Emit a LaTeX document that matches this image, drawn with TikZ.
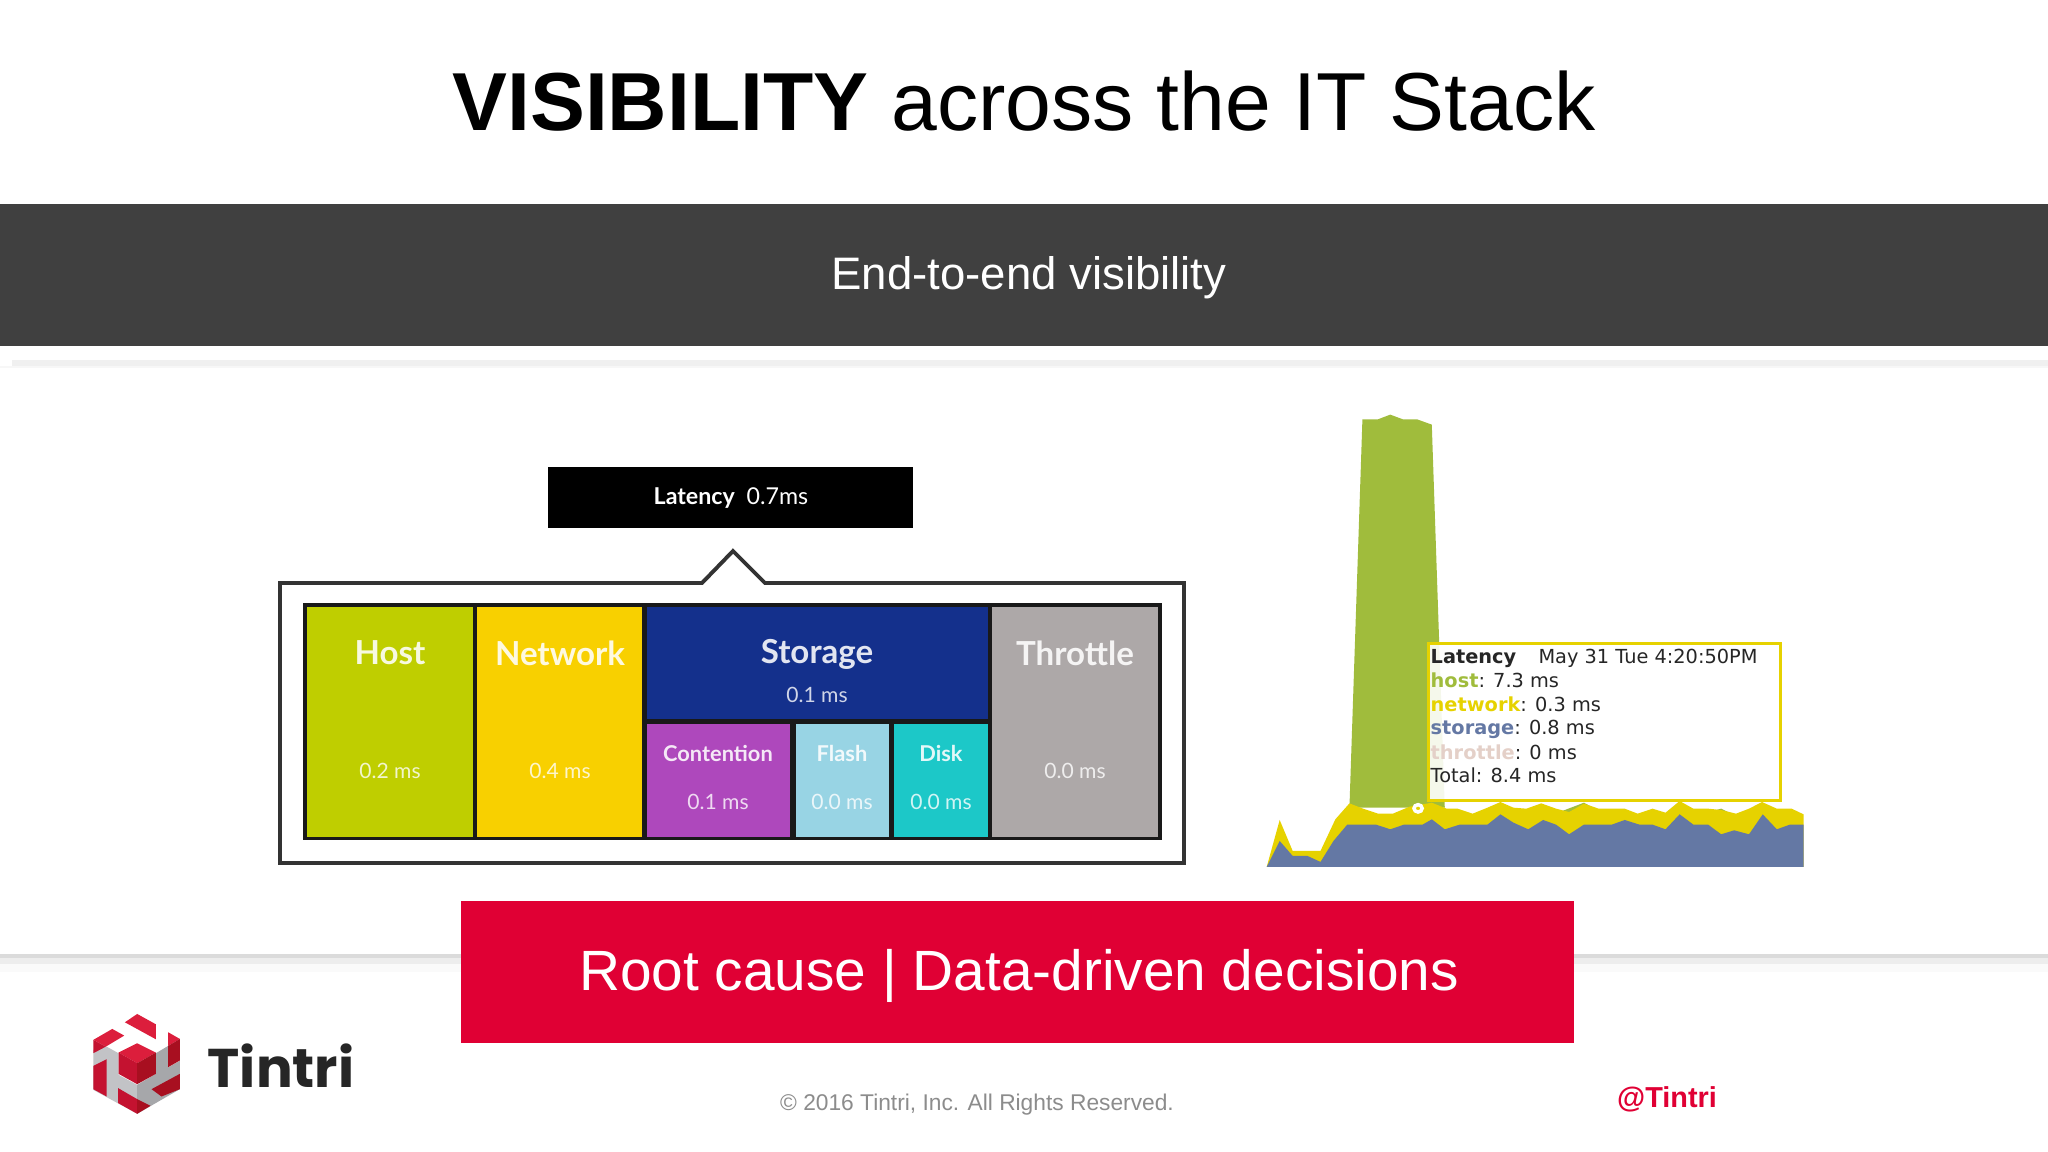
\documentclass[tikz,border=0pt]{standalone}
\usepackage{fontspec}
\setmainfont{Liberation Sans}
\newfontfamily\cellfont{Lato}
\newfontfamily\tipfont{DejaVu Sans}
\newfontfamily\brandfont{Poppins}

\definecolor{bandgray}{HTML}{404040}
\definecolor{tintrired}{HTML}{E00034}
\definecolor{hostcol}{HTML}{BFCE00}
\definecolor{netcol}{HTML}{F8D000}
\definecolor{storcol}{HTML}{14308C}
\definecolor{contcol}{HTML}{AE48BC}
\definecolor{flashcol}{HTML}{98D4E4}
\definecolor{diskcol}{HTML}{1CC8C8}
\definecolor{throtcol}{HTML}{ADA8A8}
\definecolor{chartgreen}{HTML}{A0BC3C}
\definecolor{chartyellow}{HTML}{E6D200}
\definecolor{chartblue}{HTML}{6478A4}
\definecolor{throtname}{HTML}{E4D0C8}
\definecolor{logored}{HTML}{DC1E3C}
\definecolor{logomid}{HTML}{C41230}
\definecolor{logodark}{HTML}{A80F20}
\definecolor{logogray}{HTML}{C2C3C6}
\definecolor{logodgray}{HTML}{A6A7AA}

\tikzset{
  px/.style={x=0.01cm,y=-0.01cm},
  bigcell/.style={text=white,text opacity=.88,font=\cellfont\bfseries\fontsize{9.4}{11}\selectfont},
  smallcell/.style={text=white,text opacity=.88,font=\cellfont\bfseries\fontsize{6.2}{7}\selectfont},
  msval/.style={text=white,text opacity=.8,font=\cellfont\fontsize{6}{7}\selectfont},
  tipline/.style={anchor=base west,inner sep=0pt,text=black!85,font=\tipfont\fontsize{5.5}{6}\selectfont},
}

\begin{document}
\begin{tikzpicture}[px]
  \useasboundingbox (0,0) rectangle (2048,1152);
  \fill[white] (0,0) rectangle (2048,1152);

  \fill[black!6] (12,360) rectangle (2048,366);
  \fill[black!3] (0,366) rectangle (2048,368);
  \fill[black!14] (0,954) rectangle (2048,958);
  \fill[black!7] (0,958) rectangle (2048,964);
  \fill[black!2] (0,964) rectangle (2048,972);
  \fill[bandgray] (0,204) rectangle (2048,346);
  \fill[tintrired] (461,901) rectangle (1574,1043);

  \node (title) at (1024,101) {\fontsize{23.4}{28}\selectfont\textbf{VISIBILITY} across the IT Stack};
  \node[text=white] (band) at (1029,278) {\fontsize{12.95}{16}\selectfont End-to-end visibility};
  \node[text=white] (cause) at (1019,976) {\fontsize{16.15}{20}\selectfont Root cause | Data-driven decisions};
  \node[text=black!45] (rights) at (977,1105) {\fontsize{6.47}{8}\selectfont © 2016 Tintri, Inc. All Rights Reserved.};
  \node[text=tintrired] (handle) at (1667,1099) {\fontsize{8.2}{10}\selectfont\textbf{@Tintri}};

  % latency tree
  \fill[black] (548,467) rectangle (913,528);
  \node[text=white,font=\cellfont\fontsize{6.6}{8}\selectfont] (latency) at (731,498) {\textbf{Latency}\ \ 0.7ms};
  \draw[line width=1.1pt,draw=black!80,fill=white] (280,583) -- (702,583) -- (733,551) -- (765,583) -- (1184,583) -- (1184,863) -- (280,863) -- cycle;
  \fill[black!90] (303,603) rectangle (1162,840);
  \foreach \cname/\xa/\ya/\xb/\yb/\col in {host/307/607/473/837/hostcol,net/477/607/642/837/netcol,stor/647/607/988/719/storcol,cont/647/724/790/837/contcol,flash/796/724/889/837/flashcol,disk/894/724/988/837/diskcol,throt/992/607/1158/837/throtcol}
    \fill[\col] (\xa,\ya) rectangle (\xb,\yb);

  \node[bigcell] (hostname) at (390,653) {Host};
  \node[bigcell] (netname) at (560,653) {Network};
  \node[bigcell] (storname) at (817,654) {Storage};
  \node[bigcell] (throtname) at (1075,653) {Throttle};
  \node[msval] (hostms) at (390,771) {0.2 ms};
  \node[msval] (netms) at (560,771) {0.4 ms};
  \node[msval] (storms) at (817,695) {0.1 ms};
  \node[msval] (throtms) at (1075,771) {0.0 ms};
  \node[smallcell] (contname) at (718,753) {Contention};
  \node[smallcell] (flashname) at (842,753) {Flash};
  \node[smallcell] (diskname) at (941,753) {Disk};
  \node[msval] (contms) at (718,802) {0.1 ms};
  \node[msval] (flashms) at (842,802) {0.0 ms};
  \node[msval] (diskms) at (941,802) {0.0 ms};

  % latency chart
  \begin{scope}[shift={(1250,400)},x=0.0037037cm,y=-0.0033333cm]
    \fill[chartgreen] (268,1225) -- (303,58) -- (345,58) -- (378,44) -- (412,58) -- (450,58) -- (490,74) -- (525,1225) -- cycle;
    \fill[chartgreen] (830,1240) -- (900,1210) -- (950,1240) -- cycle;
    \fill[chartgreen] (1230,1240) -- (1270,1228) -- (1310,1250) -- cycle;
    \fill[chartyellow] (45,1403) -- (80,1262) -- (115,1355) -- (190,1355) -- (230,1260) -- (268,1212) -- (305,1228) -- (345,1243) -- (385,1243) -- (430,1222) -- (490,1210) -- (530,1228) -- (560,1228) -- (600,1243) -- (640,1225) -- (675,1208) -- (710,1225) -- (745,1228) -- (785,1212) -- (825,1228) -- (860,1238) -- (900,1213) -- (940,1228) -- (1010,1228) -- (1045,1243) -- (1085,1228) -- (1120,1240) -- (1158,1205) -- (1195,1228) -- (1235,1228) -- (1270,1232) -- (1310,1243) -- (1345,1228) -- (1380,1208) -- (1420,1228) -- (1460,1228) -- (1492,1245) -- (1492,1403) -- cycle;
    \fill[chartblue] (45,1403) -- (80,1325) -- (115,1370) -- (155,1370) -- (190,1388) -- (225,1325) -- (262,1276) -- (340,1276) -- (378,1290) -- (415,1276) -- (465,1276) -- (490,1260) -- (525,1290) -- (565,1276) -- (640,1276) -- (675,1245) -- (710,1270) -- (750,1290) -- (790,1262) -- (825,1276) -- (860,1305) -- (900,1276) -- (975,1276) -- (1010,1262) -- (1050,1276) -- (1085,1276) -- (1120,1290) -- (1158,1245) -- (1195,1276) -- (1235,1276) -- (1270,1305) -- (1305,1293) -- (1345,1305) -- (1382,1245) -- (1420,1290) -- (1455,1276) -- (1492,1276) -- (1492,1403) -- cycle;
    \draw[white,line width=1pt] (453,1227) circle (11);
    \draw[chartyellow,line width=0.8pt,fill=white,fill opacity=0.9] (482,732) rectangle (1430,1203);
  \end{scope}
  \node[tipline] (tiphead) at (1430,663) {\textbf{Latency}\hspace{1.15em}May 31 Tue 4:20:50PM};
  \node[tipline] (tiphost) at (1430,687) {\textbf{\textcolor{chartgreen}{host}}: 7.3 ms};
  \node[tipline] (tipnet) at (1430,711) {\textbf{\textcolor{chartyellow}{network}}: 0.3 ms};
  \node[tipline] (tipstor) at (1430,735) {\textbf{\textcolor{chartblue}{storage}}: 0.8 ms};
  \node[tipline] (tipthrot) at (1430,759) {\textbf{\textcolor{throtname}{throttle}}: 0 ms};
  \node[tipline] (tiptotal) at (1430,782) {Total: 8.4 ms};

  % logo
  \begin{scope}[shift={(60,990)},x=0.0033333cm,y=-0.0033333cm]
    \fill[logogray] (100,180) -- (140,170) -- (176,190) -- (176,255) -- (232,285) -- (232,372) -- (100,300) -- cycle;
    \fill[logodgray] (232,285) -- (288,252) -- (288,190) -- (325,168) -- (325,233) -- (360,213) -- (360,298) -- (232,372) -- cycle;
    \fill[logored] (195,97) -- (232,72) -- (288,103) -- (288,148) -- cycle;
    \fill[logored] (100,150) -- (157,117) -- (193,137) -- (138,170) -- cycle;
    \fill[logomid] (100,150) -- (138,170) -- (100,190) -- cycle;
    \fill[logored] (325,127) -- (360,147) -- (325,168) -- cycle;
    \fill[logodark] (325,168) -- (360,147) -- (360,212) -- (325,232) -- cycle;
    \fill[logored] (176,188) -- (232,160) -- (288,188) -- (232,220) -- cycle;
    \fill[logomid] (176,188) -- (232,220) -- (232,283) -- (176,252) -- cycle;
    \fill[logodark] (232,220) -- (288,188) -- (288,252) -- (232,283) -- cycle;
    \fill[logomid] (100,228) -- (140,208) -- (140,320) -- (100,298) -- cycle;
    \fill[logomid] (175,295) -- (232,328) -- (232,372) -- (175,340) -- cycle;
    \fill[logodark] (232,328) -- (272,348) -- (232,372) -- cycle;
    \fill[logodark] (275,298) -- (360,252) -- (360,298) -- (305,320) -- cycle;
  \end{scope}
  \node[text=black!85,font=\brandfont\bfseries\fontsize{15.5}{20}\selectfont] (brand) at (281,1066) {Tintri};
\end{tikzpicture}
\end{document}
